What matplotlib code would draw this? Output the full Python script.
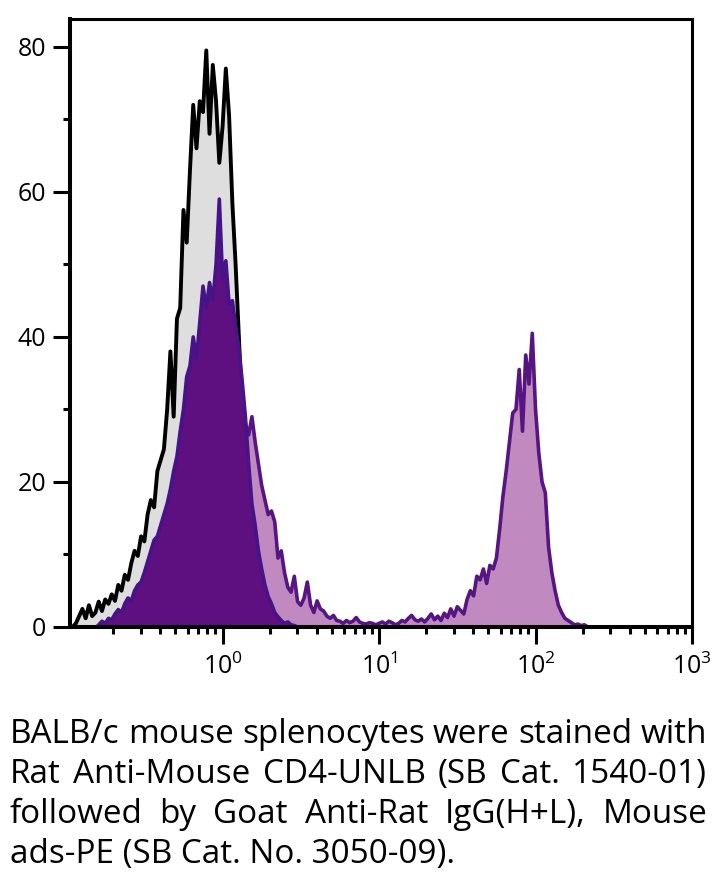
import numpy as np
import matplotlib
matplotlib.use("Agg")
import matplotlib.pyplot as plt
from matplotlib.ticker import FixedLocator, LogLocator, LogFormatterMathtext, NullFormatter

plt.rcParams['font.family'] = ['Open Sans', 'DejaVu Sans']
plt.rcParams['mathtext.fontset'] = 'custom'
plt.rcParams['mathtext.rm'] = 'Open Sans'
plt.rcParams['mathtext.it'] = 'Open Sans:italic'
plt.rcParams['mathtext.bf'] = 'Open Sans:bold'

# ---------------------------------------------------------------------------
# histogram channels: 48 channels per decade, channel 0 sits at 10^-1
# ---------------------------------------------------------------------------
CH_LOG_START = -1.0
CH_PER_DECADE = 48

# unstained control (grey fill, black outline), starts at channel 0
control_start = 0
control = [
    0.0, 0.0, 0.0, 0.5, 1.5, 2.5, 1.2, 3.0, 1.5, 2.0,
    3.5, 2.2, 3.8, 3.2, 4.5, 3.6, 5.8, 5.0, 7.2, 6.5,
    8.8, 10.5, 9.8, 12.5, 11.8, 15.5, 17.5, 16.5, 21.5, 23.0,
    24.5, 30.0, 38.0, 29.0, 42.5, 44.0, 57.5, 53.0, 63.0, 72.0,
    66.0, 72.5, 71.0, 79.5, 68.0, 77.5, 72.5, 64.0, 69.0, 77.0,
    70.5, 58.5, 50.0, 40.0, 30.0, 22.0, 16.0, 11.0, 7.5, 5.0,
    3.2, 2.0, 1.2, 0.7, 0.3, 0.0,
]

# secondary antibody only (dark purple), starts at channel 10
secondary_start = 10
secondary = [
    0.3, 0.8, 0.5, 1.2, 1.0, 1.8, 2.4, 2.0, 3.2, 4.0,
    3.6, 5.0, 5.8, 6.2, 7.5, 9.0, 10.5, 12.0, 12.5, 14.0,
    15.5, 17.0, 19.0, 21.5, 23.5, 27.0, 30.0, 34.5, 36.0, 40.0,
    37.0, 42.0, 47.0, 44.0, 47.5, 45.0, 50.0, 59.0, 48.0, 50.5,
    44.5, 45.0, 41.5, 38.5, 34.0, 29.0, 22.5, 17.0, 14.0, 10.5,
    8.0, 5.8, 4.2, 3.2, 2.0, 1.4, 0.9, 0.5, 0.7, 0.3,
    0.2, 0.0,
]

# CD4 stained sample (light purple), starts at channel 10
stained_start = 10
stained = [
    0.2, 0.5, 0.4, 0.9, 0.8, 1.4, 2.0, 1.7, 2.6, 3.3,
    3.0, 4.2, 5.0, 5.2, 6.5, 7.8, 9.0, 10.5, 11.0, 12.2,
    13.8, 15.0, 17.0, 19.0, 21.0, 24.0, 27.0, 30.5, 32.0, 35.5,
    33.0, 37.0, 41.0, 39.0, 42.0, 40.5, 43.0, 47.0, 43.5, 45.5,
    41.0, 42.0, 39.5, 34.0, 31.0, 28.0, 26.5, 29.0, 25.5, 22.5,
    19.5, 17.5, 15.5, 16.0, 14.5, 9.5, 10.5, 7.5, 5.5, 4.8,
    7.0, 3.5, 3.0, 4.0, 6.2, 3.0, 2.0, 3.6, 2.5, 2.2,
    1.5, 1.2, 1.6, 0.9, 0.8, 0.5, 0.9, 0.6, 0.8, 1.3,
    0.7, 0.5, 0.4, 0.6, 0.5, 0.3, 0.5, 0.7, 0.4, 0.8,
    0.6, 0.3, 0.5, 0.9, 0.7, 1.2, 1.6, 1.0, 0.8, 1.1,
    0.7, 1.2, 1.8, 1.0, 1.5, 0.9, 1.9, 1.3, 2.5, 1.5,
    2.8, 2.3, 1.8, 3.8, 5.0, 4.3, 7.0, 6.5, 8.0, 6.0,
    8.5, 8.0, 9.5, 13.5, 18.0, 21.5, 25.5, 29.5, 30.0, 35.5,
    27.0, 37.5, 33.5, 40.5, 30.0, 24.0, 20.0, 18.5, 11.0, 7.5,
    5.0, 3.0, 2.0, 1.2, 0.9, 0.6, 0.3, 0.4, 0.2, 0.3,
    0.0,
]

y_major = [0, 20, 40, 60, 80]
y_minor = [10, 30, 50, 70]
x_major = [1, 10, 100, 1000]

caption_lines = [
    "BALB/c mouse splenocytes were stained with",
    "Rat Anti-Mouse CD4-UNLB (SB Cat. 1540-01)",
    "followed by Goat Anti-Rat IgG(H+L), Mouse",
    "ads-PE (SB Cat. No. 3050-09).",
]


def channel_x(start, n):
    return 10 ** (CH_LOG_START + (start + np.arange(n)) / CH_PER_DECADE)


W, H = 723, 886
fig = plt.figure(figsize=(W / 100, H / 100), dpi=100)
fig.patch.set_facecolor('white')
ax = fig.add_axes([70 / W, 1 - 627 / H, 622 / W, 608.5 / H])

xc = channel_x(control_start, len(control))
xs = channel_x(secondary_start, len(secondary))
xt = channel_x(stained_start, len(stained))

ax.fill_between(xc, control, 0, color='#dedede', lw=0, zorder=1)
ax.plot(xc, control, color='black', lw=2.8, zorder=2)
ax.fill_between(xt, stained, 0, color='#c08ac0', lw=0, zorder=3)
ax.plot(xt, stained, color='#561583', lw=2.6, zorder=4)
ax.fill_between(xs, secondary, 0, color='#5e1080', lw=0, zorder=5)
ax.plot(xs, secondary, color='#471388', lw=2.6, zorder=6)

ax.set_xscale('log')
ax.set_xlim(10 ** (-152.5 / 156.4), 1000)
ax.set_ylim(0, 83.9)

ax.xaxis.set_major_locator(FixedLocator(x_major))
ax.xaxis.set_major_formatter(LogFormatterMathtext())
ax.xaxis.set_minor_locator(LogLocator(base=10, subs=np.arange(2, 10)))
ax.xaxis.set_minor_formatter(NullFormatter())
ax.set_yticks(y_major)
ax.set_yticks(y_minor, minor=True)

ax.tick_params(which='major', direction='out', length=12, width=2.2,
               labelsize=18, pad=5, color='black')
ax.tick_params(which='minor', direction='out', length=5, width=2.2)
ax.tick_params(axis='x', which='major', pad=7)

for side in ['left', 'bottom']:
    ax.spines[side].set_linewidth(2.9)
for side in ['top', 'right']:
    ax.spines[side].set_linewidth(2.2)
for sp in ax.spines.values():
    sp.set_zorder(10)

# caption, justified like the original; size fitted to the first line
x0, x1 = 10, 707
baselines = [743, 783, 823, 863]
fig.canvas.draw()
renderer = fig.canvas.get_renderer()
probe = fig.text(0, 0, caption_lines[0], fontsize=20)
cap_size = 20 * (x1 - x0) / probe.get_window_extent(renderer).width
probe.remove()

for i, (line, by) in enumerate(zip(caption_lines, baselines)):
    yf = 1 - by / H
    if i == len(caption_lines) - 1:
        fig.text(x0 / W, yf, line, fontsize=cap_size, va='baseline', ha='left')
        continue
    words = line.split()
    texts = [fig.text(0, yf, w, fontsize=cap_size, va='baseline', ha='left')
             for w in words]
    widths = [t.get_window_extent(renderer).width for t in texts]
    gap = (x1 - x0 - sum(widths)) / (len(words) - 1)
    x = x0
    for t, w in zip(texts, widths):
        t.set_x(x / W)
        x += w + gap

fig.savefig('out.png', dpi=100)
